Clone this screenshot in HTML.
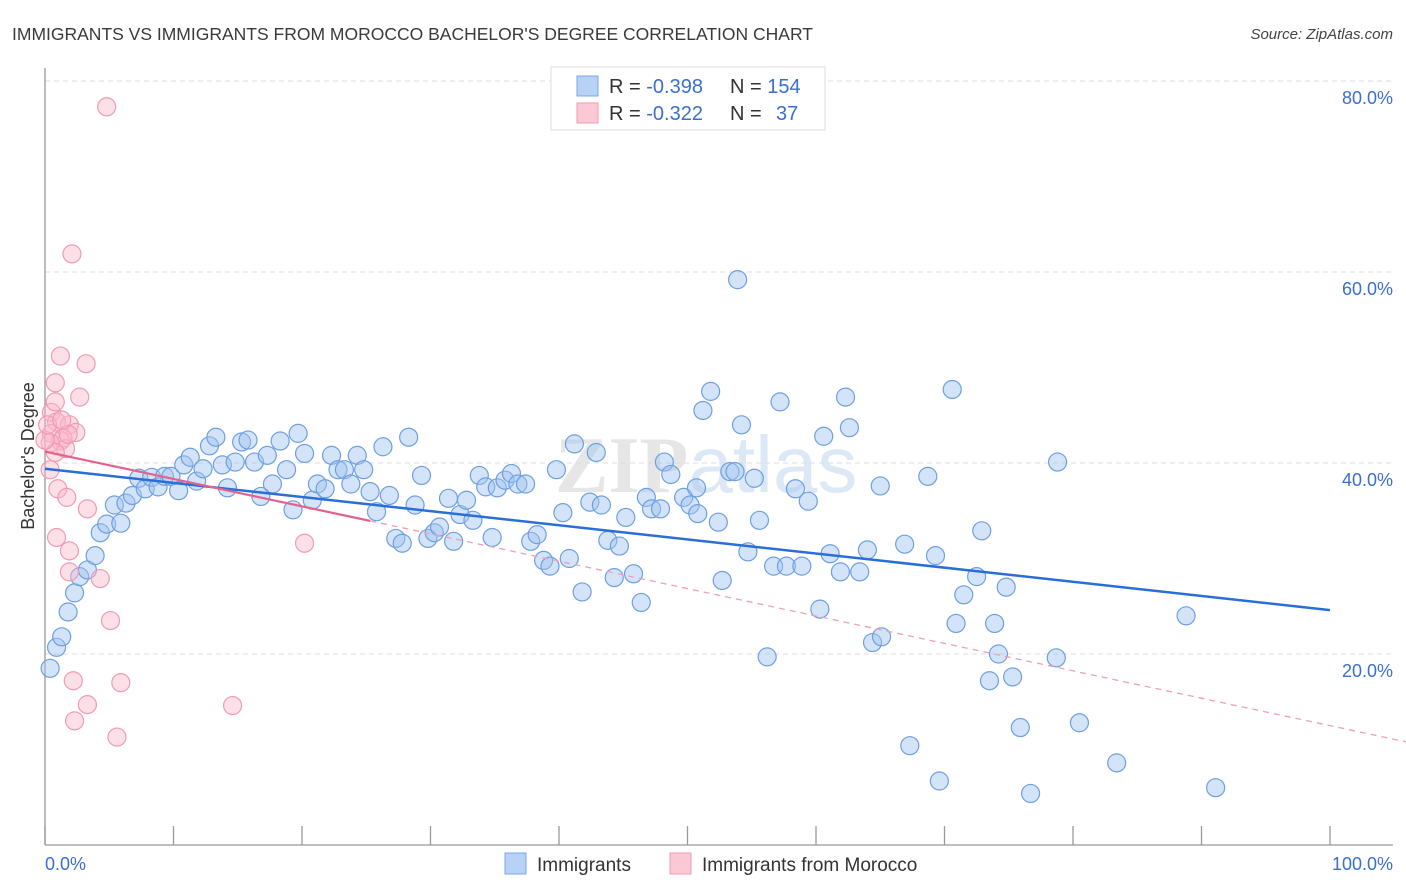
<!DOCTYPE html>
<html><head><meta charset="utf-8"><style>
body{margin:0;background:#fff;font-family:"Liberation Sans",sans-serif}
svg{display:block}
</style></head><body>
<svg id="chart" width="1406" height="892" viewBox="0 0 1406 892" xmlns="http://www.w3.org/2000/svg">
<text x="12" y="40" font-size="17.5" fill="#3a3a3a">IMMIGRANTS VS IMMIGRANTS FROM MOROCCO BACHELOR'S DEGREE CORRELATION CHART</text>
<text x="1393" y="39" font-size="15" fill="#444" font-style="italic" text-anchor="end">Source: ZipAtlas.com</text>
<text x="555" y="492" font-size="80" fill="#e6e6e6" font-family="Liberation Serif,serif" font-weight="bold">ZIP<tspan font-family="Liberation Sans,sans-serif" font-weight="normal" fill="#dde8f6">atlas</tspan></text>
<g id="grid"></g>
<g id="axes"></g>
<g id="points"></g>
<g id="lines"></g>
<text transform="translate(34,456) rotate(-90)" font-size="18" fill="#333" text-anchor="middle">Bachelor's Degree</text>
<g>
<rect x="551" y="67" width="274" height="63" fill="#fff" stroke="#ddd"/>
<rect x="577" y="76" width="21" height="20" fill="#b8d2f5" stroke="#7aa7e6"/>
<rect x="577" y="103" width="21" height="20" fill="#fcc8d6" stroke="#f09ab3"/>
<text x="609" y="93" font-size="20" fill="#333">R = <tspan fill="#3a6fd0">-0.398</tspan><tspan x="730">N = </tspan><tspan fill="#3a6fd0">154</tspan></text>
<text x="609" y="120" font-size="20" fill="#333">R = <tspan fill="#3a6fd0">-0.322</tspan><tspan x="730">N = </tspan><tspan fill="#3a6fd0" x="776">37</tspan></text>
</g>
<g>
<rect x="505" y="853" width="21" height="21" fill="#b8d2f5" stroke="#7aa7e6"/>
<text x="537" y="871" font-size="19" fill="#333">Immigrants</text>
<rect x="670" y="853" width="21" height="21" fill="#fcc8d6" stroke="#f09ab3"/>
<text x="702" y="871" font-size="19" fill="#333">Immigrants from Morocco</text>
</g>
</svg>
<script>
const yTicks=[20,40,60,80];
const yTickLabels=["20.0%","40.0%","60.0%","80.0%"];
const xTickVals=[0,10,20,30,40,50,60,70,80,90,100];
const xEndLabels=["0.0%","100.0%"];
const blueX=[0.4,0.9,1.3,1.8,2.3,2.7,3.3,3.9,4.3,4.8,5.4,5.9,6.3,6.8,7.3,7.8,8.3,8.8,9.3,9.8,10.4,10.8,11.3,11.8,12.3,12.8,13.3,13.8,14.2,14.8,15.3,15.8,16.3,16.8,17.3,17.7,18.3,18.8,19.3,19.7,20.2,20.8,21.2,21.8,22.3,22.8,23.3,23.8,24.3,24.8,25.3,25.8,26.3,26.8,27.3,27.8,28.3,28.8,29.3,29.8,30.3,30.7,31.4,31.8,32.3,32.8,33.3,33.8,34.3,34.8,35.2,35.8,36.3,36.8,37.4,37.8,38.3,38.8,39.3,39.8,40.3,40.8,41.8,41.2,42.4,42.9,43.3,43.8,44.3,44.7,45.2,45.8,46.4,46.8,47.2,47.9,48.2,48.7,49.7,50.2,50.8,51.2,51.8,52.4,52.7,53.3,53.7,54.2,54.7,55.2,55.6,56.2,56.7,57.2,57.7,58.4,58.9,59.4,60.3,60.6,61.1,61.9,62.3,62.6,63.4,64.0,64.4,65.1,65.0,66.9,67.3,68.7,69.3,69.6,70.6,70.9,71.5,72.5,72.9,73.5,73.9,74.2,74.8,75.3,75.9,76.7,78.7,78.8,80.5,83.4,88.8,91.1,53.9,50.7];
const blueY=[18.5,20.7,21.8,24.4,26.4,28.1,28.8,30.3,32.7,33.6,35.6,33.7,35.8,36.6,38.4,37.3,38.5,37.5,38.6,38.6,37.1,39.8,40.6,38.1,39.4,41.8,42.7,39.8,37.4,40.1,42.2,42.4,40.1,36.5,40.8,37.8,42.3,39.3,35.1,43.1,41.0,36.1,37.8,37.3,40.8,39.3,39.3,37.8,40.8,39.3,37.0,34.9,41.7,36.6,32.1,31.6,42.7,35.6,38.7,32.1,32.7,33.3,36.3,31.8,34.6,36.1,34.0,38.7,37.5,32.2,37.4,38.2,38.9,37.8,37.8,31.8,32.5,29.8,29.2,39.3,34.8,30.0,26.5,42.0,35.9,41.1,35.6,31.9,28.0,31.3,34.3,28.4,25.4,36.4,35.2,35.2,40.1,38.8,36.4,35.6,34.7,45.5,47.5,33.8,27.7,39.1,39.1,44.0,30.7,38.4,34.0,19.7,29.2,46.4,29.2,37.3,29.2,36.0,24.7,42.8,30.5,28.6,46.9,43.7,28.6,30.9,21.2,21.8,37.6,31.5,10.4,38.6,30.3,6.7,47.7,23.2,26.2,28.1,32.9,17.2,23.2,20.0,27.0,17.6,12.3,5.4,19.6,40.1,12.8,8.6,24.0,6.0,59.2,37.4];
const pinkX=[4.8,2.1,1.2,3.2,0.8,2.7,0.5,0.9,1.9,2.4,0.5,1.2,1.4,1.6,1.8,0.4,0.8,1.0,1.7,3.3,0.9,1.9,1.9,4.3,5.1,20.2,2.2,5.9,14.6,3.3,2.3,5.6,0.4,0.0,0.2,1.3,0.8];
const pinkY=[77.3,61.9,51.2,50.4,48.4,46.9,45.3,44.3,44.0,43.2,43.1,42.3,42.6,41.5,43.0,42.1,41.1,37.3,36.4,35.2,32.2,30.8,28.6,27.9,23.5,31.6,17.2,17.0,14.6,14.7,13.0,11.3,39.3,42.4,44.0,44.5,46.4];
const blueTrend=[39.4,24.6]; // value at x=0 and x=100
const pinkTrend=[41.2,-0.287]; // intercept, slope
const pinkSolidEnd=25.3;

const NS="http://www.w3.org/2000/svg";
const X0=45,X1=1330,Y0=845,PXY=9.55;
const xs=v=>X0+v*(X1-X0)/100;
const ys=v=>Y0-v*PXY;
function mk(tag,attrs,parent){const e=document.createElementNS(NS,tag);for(const k in attrs)e.setAttribute(k,attrs[k]);parent.appendChild(e);return e;}
const grid=document.getElementById('grid'),axes=document.getElementById('axes'),pts=document.getElementById('points'),lines=document.getElementById('lines');
yTicks.forEach((t,i)=>{
  const l=mk('line',{x1:X0,x2:1393,y1:ys(t),y2:ys(t),stroke:'#dcdcdc','stroke-dasharray':'5,4'},grid);
  
  
  const tx=mk('text',{x:1393,y:ys(t)+23,'font-size':18,fill:'#3a6fd0','text-anchor':'end'},axes);
  tx.textContent=yTickLabels[i];
  
  
});
const ya=mk('line',{x1:X0,x2:X0,y1:68,y2:Y0,stroke:'#999','stroke-width':1.3},axes);


const xa=mk('line',{x1:X0,x2:1393,y1:Y0,y2:Y0,stroke:'#999','stroke-width':1.3},axes);


xTickVals.forEach(v=>{
  const t=mk('line',{x1:xs(v),x2:xs(v),y1:826,y2:Y0,stroke:'#999','stroke-width':1.3},axes);
  
  
});
const xl0=mk('text',{x:45,y:870,'font-size':18,fill:'#3a6fd0'},axes);xl0.textContent=xEndLabels[0];


const xl1=mk('text',{x:1393,y:870,'font-size':18,fill:'#3a6fd0','text-anchor':'end'},axes);xl1.textContent=xEndLabels[1];


blueX.forEach((v,i)=>{
  const c=mk('circle',{cx:xs(v),cy:ys(blueY[i]),r:9,fill:'rgba(160,196,240,0.45)',stroke:'#6f9fe0','stroke-width':1.2},pts);
  
  
});
pinkX.forEach((v,i)=>{
  const c=mk('circle',{cx:xs(v),cy:ys(pinkY[i]),r:9,fill:'rgba(250,185,205,0.45)',stroke:'#ef9bb5','stroke-width':1.2},pts);
  
  
});
const bl=mk('line',{x1:xs(0),y1:ys(blueTrend[0]),x2:xs(100),y2:ys(blueTrend[1]),stroke:'#2a6ed8','stroke-width':2.5},lines);


const pEnd=pinkTrend[0]+pinkTrend[1]*pinkSolidEnd;
const zero=-pinkTrend[0]/pinkTrend[1];
const pl=mk('line',{x1:xs(0),y1:ys(pinkTrend[0]),x2:xs(pinkSolidEnd),y2:ys(pEnd),stroke:'#e4628e','stroke-width':2.2},lines);


const pd=mk('line',{x1:xs(pinkSolidEnd),y1:ys(pEnd),x2:xs(zero),y2:ys(0),stroke:'#eea0b8','stroke-width':1.3,'stroke-dasharray':'6,5'},lines);


</script>
</body></html>
